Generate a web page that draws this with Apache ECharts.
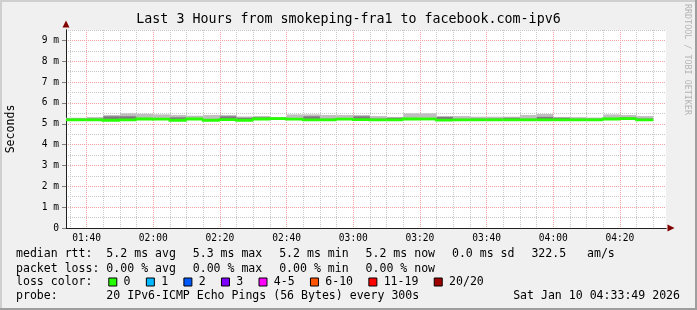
<!DOCTYPE html>
<html><head><meta charset="utf-8">
<script src="https://cdn.jsdelivr.net/npm/echarts@6/dist/echarts.min.js"></script>
<style>html,body{margin:0;padding:0;background:#f0f0f0}#c{width:697px;height:310px}</style>
</head><body><div id="c"></div>
<script>
// ---- data (milliseconds) ----
const binEnd = ['01:35','01:40','01:45','01:50','01:55','02:00','02:05','02:10','02:15','02:20','02:25','02:30',
  '02:35','02:40','02:45','02:50','02:55','03:00','03:05','03:10','03:15','03:20','03:25','03:30',
  '03:35','03:40','03:45','03:50','03:55','04:00','04:05','04:10','04:15','04:20','04:25','04:30'];
const median = [5.19,5.19,5.19,5.17,5.19,5.23,5.22,5.17,5.23,5.17,5.20,5.17,
  5.23,5.25,5.22,5.19,5.19,5.22,5.20,5.19,5.19,5.23,5.23,5.18,
  5.19,5.19,5.19,5.19,5.19,5.19,5.19,5.19,5.19,5.23,5.25,5.19];
const smokeMax = [5.29,5.29,5.32,5.42,5.50,5.48,5.45,5.42,5.39,5.42,5.42,5.35,
  5.37,5.32,5.45,5.45,5.42,5.42,5.42,5.37,5.33,5.50,5.50,5.37,
  5.37,5.34,5.34,5.34,5.42,5.47,5.33,5.32,5.30,5.45,5.42,5.37];
const smokeCore = [5.24,5.24,5.25,5.36,5.36,5.28,5.27,5.31,5.28,5.23,5.36,5.29,
  5.31,5.29,5.27,5.36,5.24,5.27,5.36,5.25,5.29,5.28,5.28,5.33,
  5.24,5.25,5.25,5.29,5.24,5.33,5.29,5.24,5.24,5.28,5.30,5.25];
const lossPct = [0,0,0,0,0,0,0,0,0,0,0,0, 0,0,0,0,0,0,0,0,0,0,0,0, 0,0,0,0,0,0,0,0,0,0,0,0];
const lossBuckets = ['0','1','2','3','4-5','6-10','11-19','20/20'];
const lossBucketMax = [0,1,2,3,5,10,19,20];
const lossColors = ['#26ff00','#00b8ff','#0059ff','#7e00ff','#ff00ff','#ff5500','#ff0000','#a10000'];
const xTickLabels = ['01:40','02:00','02:20','02:40','03:00','03:20','03:40','04:00','04:20'];
const yTicks = [0,1,2,3,4,5,6,7,8,9];
const rangeStart = '01:33:49', rangeEnd = '04:33:49';
const stepMin = 5;
const titleText = 'Last 3 Hours from smokeping-fra1 to facebook.com-ipv6';
const statRtt = ['median rtt:  5.2 ms avg', '  5.3 ms max', '  5.2 ms min', '  5.2 ms now', '  0.0 ms sd', '  322.5   am/s'];
const statLoss = ['packet loss: 0.00 % avg', '  0.00 % max', '  0.00 % min', '  0.00 % now'];
const lossLabel = ['loss color:'];
const probeLine = ['probe:       20 IPv6-ICMP Echo Pings (56 Bytes) every 300s'];
const dateText = 'Sat Jan 10 04:33:49 2026';

// ---- helpers ----
const toMin = s => { const p = s.split(':').map(Number); return p[0]*60 + p[1] + (p[2]||0)/60; };
const fmt = m => { const h = Math.floor(m/60), mm = Math.round(m%60); return (h<10?'0':'')+h+':'+(mm<10?'0':'')+mm; };
const xMin = toMin(rangeStart), xMax = toMin(rangeEnd);
const majorX = xTickLabels.map(toMin);
const minorX = [];
for (let m = Math.ceil(xMin/5)*5; m <= xMax; m += 5) if (majorX.indexOf(m) < 0) minorX.push(m);
const minorY = yTicks.map(v => v + 0.5);
const FONT = 'DejaVu Sans Mono';
const LFS = 11.55, CW = 6.95, GLUE = 3.0;

const bins = binEnd.map((t,i) => [toMin(t)-stepMin, toMin(t), median[i], smokeMax[i], smokeCore[i], i>0?median[i-1]:median[i], lossPct[i]]);
const bucketOf = l => { for (let k=0;k<lossBucketMax.length;k++) if (l*20/100 <= lossBucketMax[k]) return k; return lossBucketMax.length-1; };

const smokeSeries = {
  type: 'custom', name: 'smoke', xAxisIndex: 1, yAxisIndex: 1, clip: true, silent: true,
  encode: {x: [0,1], y: [2,3]},
  data: bins,
  renderItem: (params, api) => {
    const a = api.coord([api.value(0), api.value(3)]);
    const b = api.coord([api.value(1), api.value(2)]);
    const c = api.coord([api.value(0), api.value(4)]);
    return {type:'group', children:[
      {type:'rect', shape:{x:a[0], y:a[1], width:b[0]-a[0], height:b[1]-a[1]}, style:{fill:'#bebebe'}},
      {type:'rect', shape:{x:a[0], y:c[1], width:b[0]-a[0], height:b[1]-c[1]}, style:{fill:'#7f787f'}}
    ]};
  }
};
const lineSeries = lossBuckets.map((name,k) => ({
  type: 'custom', name: name, xAxisIndex: 1, yAxisIndex: 1, clip: true, silent: true,
  color: lossColors[k],
  itemStyle: {color: lossColors[k], borderColor: '#000', borderWidth: 1},
  encode: {x: [0,1], y: [2]},
  data: bins.filter(b => bucketOf(b[6]) === k),
  renderItem: (params, api) => {
    const p1 = api.coord([api.value(0), api.value(5)]);
    const p2 = api.coord([api.value(0), api.value(2)]);
    const p3 = api.coord([api.value(1), api.value(2)]);
    return {type:'polyline', shape:{points:[p1,p2,p3]}, style:{stroke: lossColors[k], lineWidth: 2.8, fill: null}};
  }
}));

// legend rows: GPRINT items are laid out one after another with a small glue gap
function rowTexts(items, y) {
  const out = []; let chars = 0;
  items.forEach((s, i) => {
    out.push({type:'text', x: 16 + chars*CW + i*GLUE, y: y, silent: true,
      style:{text: s, font: LFS+'px "'+FONT+'"', fill:'#000', textVerticalAlign:'middle', textAlign:'left'}});
    chars += s.length;
  });
  return out;
}

const gridGray = {color:'#c8c8c8', type:[1,1], width:1};
const gridRed = {color:'#f3a0a0', type:[1,1], width:1};
const axisFont = {fontFamily: FONT, fontSize: 9.6, color: '#000'};

const option = {
  animation: false,
  backgroundColor: '#f0f0f0',
  title: {text: titleText, left: 'center', top: 13.5, padding: 0,
    textStyle: {fontFamily: FONT, fontSize: 13.3, fontWeight: 'normal', color: '#000'}},
  grid: {left: 66, right: 31, top: 30, bottom: 82, show: true, backgroundColor: '#fff', borderWidth: 0,
    containLabel: false, outerBoundsMode: 'none'},
  xAxis: [
    {type:'value', min:xMin, max:xMax, position:'bottom', z: 0,
      axisLine:{show:true, onZero:false, symbol:['none','triangle'], symbolSize:[7,7], symbolOffset:[0,5], lineStyle:{color:'#800000'}},
      axisTick:{show:false, customValues: minorX}, axisLabel:{show:false},
      splitLine:{show:true, lineStyle: gridGray}},
    {type:'value', min:xMin, max:xMax, position:'bottom', z: 1,
      axisLine:{show:true, onZero:false, lineStyle:{color:'#202020'}},
      axisTick:{show:false, customValues: majorX},
      axisLabel:{show:true, customValues: majorX, margin: 5, formatter: v => fmt(v), ...axisFont},
      splitLine:{show:true, lineStyle: gridRed}}
  ],
  yAxis: [
    {type:'value', min:0, max:9.5, position:'left', z: 0,
      axisLine:{show:true, onZero:false, symbol:['none','triangle'], symbolSize:[7,7], symbolOffset:[0,6], lineStyle:{color:'#800000'}},
      axisTick:{show:false, customValues: minorY}, axisLabel:{show:false},
      splitLine:{show:true, lineStyle: gridGray}},
    {type:'value', min:0, max:9.5, position:'left', z: 1,
      name: 'Seconds', nameLocation: 'middle', nameGap: 49,
      nameTextStyle: {fontFamily: FONT, fontSize: LFS, color: '#000'},
      axisLine:{show:true, onZero:false, lineStyle:{color:'#202020'}},
      axisTick:{show:true, length:4, customValues: yTicks, lineStyle:{color:'#808080'}},
      axisLabel:{show:true, customValues: yTicks, margin: 7, formatter: v => v === 0 ? '0' : v + ' m', ...axisFont},
      splitLine:{show:true, lineStyle: gridRed}}
  ],
  legend: {left: 108.3, top: 275, padding: 0, itemWidth: 8, itemHeight: 8, itemGap: 15.3, icon: 'rect',
    selectedMode: false, data: lossBuckets,
    itemStyle: {borderColor: '#000', borderWidth: 1},
    textStyle: {fontFamily: FONT, fontSize: LFS, color: '#000', padding: [0,0,0,1.8], lineHeight: 14}},
  graphic: [
    {type:'rect', shape:{x:0,y:0,width:697,height:2}, style:{fill:'#cfcfcf'}, silent:true},
    {type:'rect', shape:{x:0,y:0,width:2,height:310}, style:{fill:'#cfcfcf'}, silent:true},
    {type:'rect', shape:{x:695,y:0,width:2,height:310}, style:{fill:'#9e9e9e'}, silent:true},
    {type:'rect', shape:{x:0,y:308,width:697,height:2}, style:{fill:'#9e9e9e'}, silent:true},
    ...rowTexts(statRtt, 254.3),
    ...rowTexts(statLoss, 268.5),
    ...rowTexts(lossLabel, 282.3),
    ...rowTexts(probeLine, 296.3),
    {type:'text', x:680, y:296.3, silent:true,
      style:{text:dateText, font:LFS+'px "'+FONT+'"', fill:'#000', textVerticalAlign:'middle', textAlign:'right'}},
    {type:'text', x:687.5, y:4, rotation:-Math.PI/2, silent:true,
      style:{text:'RRDTOOL / TOBI OETIKER', font:'8.4px "'+FONT+'"', fill:'#b4b4b4', textVerticalAlign:'middle', textAlign:'left'}}
  ],
  series: [smokeSeries, ...lineSeries]
};
const chart = echarts.init(document.getElementById('c'), null, {renderer:'canvas'});
chart.setOption(option);
</script></body></html>
